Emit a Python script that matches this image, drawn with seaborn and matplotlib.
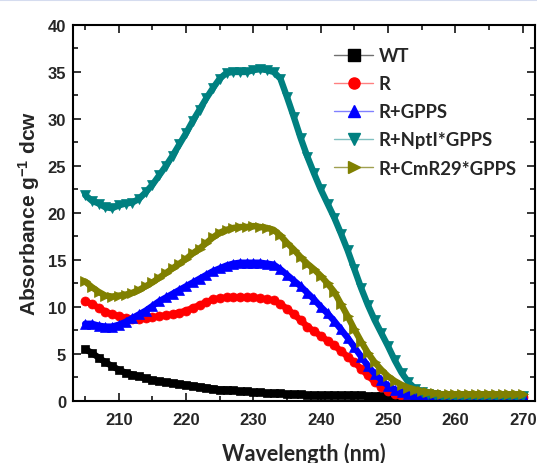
import matplotlib
matplotlib.use("Agg")
import matplotlib.pyplot as plt
from matplotlib.lines import Line2D
from matplotlib.ticker import MultipleLocator
import numpy as np
import pandas as pd
import seaborn as sns

# Absorbance spectra (per g dry cell weight), sampled every 1 nm from 205 to 270 nm
wavelength = list(range(205, 271))

wt = [5.5, 5.1, 4.6, 4.1, 3.7, 3.3, 3.0, 2.8, 2.6, 2.4,
      2.2, 2.1, 2.0, 1.9, 1.8, 1.7, 1.6, 1.5, 1.4, 1.3,
      1.2, 1.2, 1.1, 1.0, 1.0, 0.9, 0.9, 0.8, 0.8, 0.8,
      0.7, 0.7, 0.7, 0.6, 0.6, 0.6, 0.6, 0.6, 0.6, 0.6,
      0.6, 0.6, 0.5, 0.5, 0.5, 0.5, 0.4, 0.4, 0.4, 0.4,
      0.4, 0.4, 0.4, 0.4, 0.4, 0.4, 0.4, 0.4, 0.4, 0.4,
      0.4, 0.4, 0.4, 0.4, 0.4, 0.4]

r = [10.6, 10.3, 9.9, 9.5, 9.2, 9.0, 8.8, 8.7, 8.7, 8.8,
     8.9, 9.0, 9.1, 9.2, 9.4, 9.6, 9.9, 10.2, 10.5, 10.8,
     10.9, 11.0, 11.0, 11.0, 11.0, 11.0, 10.9, 10.8, 10.7, 10.3,
     9.8, 9.2, 8.6, 7.9, 7.4, 6.9, 6.4, 5.9, 5.3, 4.7,
     4.1, 3.4, 2.7, 2.0, 1.5, 1.0, 0.7, 0.5, 0.4, 0.4,
     0.4, 0.4, 0.4, 0.4, 0.4, 0.4, 0.4, 0.4, 0.4, 0.4,
     0.4, 0.4, 0.4, 0.4, 0.4, 0.4]

r_gpps = [8.2, 8.2, 8.0, 7.9, 7.9, 8.1, 8.4, 8.8, 9.2, 9.6,
          10.1, 10.6, 11.0, 11.4, 11.8, 12.2, 12.6, 13.0, 13.4, 13.8,
          14.1, 14.4, 14.6, 14.7, 14.7, 14.7, 14.7, 14.6, 14.5, 14.0,
          13.4, 12.8, 12.2, 11.5, 10.8, 10.0, 9.3, 8.5, 7.6, 6.7,
          5.7, 4.7, 3.7, 2.9, 2.2, 1.6, 1.2, 0.9, 0.7, 0.6,
          0.5, 0.5, 0.5, 0.5, 0.5, 0.5, 0.5, 0.5, 0.5, 0.5,
          0.5, 0.5, 0.5, 0.5, 0.5, 0.5]

r_nptl_gpps = [21.9, 21.3, 21.0, 20.6, 20.5, 20.8, 21.0, 21.1, 21.5, 22.2,
               23.0, 24.0, 25.0, 26.1, 27.3, 28.5, 29.8, 31.0, 32.2, 33.3,
               34.3, 34.9, 35.0, 35.0, 35.0, 35.2, 35.3, 35.2, 35.0, 34.3,
               32.3, 30.2, 28.0, 26.0, 24.2, 22.5, 21.0, 19.5, 17.8, 16.0,
               14.0, 12.0, 10.2, 8.6, 7.2, 5.8, 4.3, 3.0, 2.0, 1.3,
               0.9, 0.7, 0.6, 0.5, 0.5, 0.5, 0.5, 0.5, 0.5, 0.5,
               0.5, 0.5, 0.5, 0.5, 0.5, 0.5]

r_cmr29_gpps = [12.7, 12.1, 11.6, 11.2, 11.1, 11.2, 11.3, 11.5, 11.8, 12.2,
                12.6, 13.1, 13.6, 14.1, 14.6, 15.1, 15.7, 16.2, 16.8, 17.4,
                17.9, 18.2, 18.4, 18.5, 18.5, 18.6, 18.5, 18.4, 18.2, 17.6,
                16.8, 16.1, 15.3, 14.6, 14.0, 13.3, 12.5, 11.6, 10.3, 9.0,
                7.6, 6.3, 5.1, 4.1, 3.3, 2.6, 2.1, 1.7, 1.4, 1.2,
                1.0, 0.9, 0.8, 0.7, 0.7, 0.7, 0.7, 0.7, 0.7, 0.7,
                0.7, 0.7, 0.7, 0.7, 0.7, 0.7]

series_names = ["WT", "R", "R+GPPS", "R+NptI*GPPS", "R+CmR29*GPPS"]
series_values = [wt, r, r_gpps, r_nptl_gpps, r_cmr29_gpps]
colors = ["#000000", "#ff0000", "#0000ff", "#008080", "#808000"]
legend_line_colors = ["#707070", "#ff8080", "#8080ff", "#80c0c0", "#a0a050"]
markers = ["s", "o", "^", "v", ">"]
marker_sizes = [6.2, 6.5, 6.8, 7.6, 7.0]

df = pd.DataFrame({
    "Wavelength": np.tile(wavelength, len(series_names)),
    "Absorbance": np.concatenate(series_values),
    "Strain": np.repeat(series_names, len(wavelength)),
})

sns.set_style("ticks")
plt.rcParams["font.family"] = ["Liberation Sans", "DejaVu Sans"]
plt.rcParams["font.weight"] = "bold"
plt.rcParams["mathtext.fontset"] = "custom"
plt.rcParams["mathtext.rm"] = "Liberation Sans:bold"
plt.rcParams["mathtext.it"] = "Liberation Sans:bold"
plt.rcParams["mathtext.bf"] = "Liberation Sans:bold"

fig = plt.figure(figsize=(5.37, 4.64), dpi=100)
ax = fig.add_axes([0.136, 0.134, 0.860, 0.810])

# thin pale rule along the top edge of the figure
fig.add_artist(Line2D([0, 1], [0.997, 0.997], transform=fig.transFigure,
                      color="#d5dcef", linewidth=1.5))

# dense symbols joined by a thick trace of the same colour give a solid band
for name, col, mk, ms in zip(series_names, colors, markers, marker_sizes):
    sub = df[df["Strain"] == name]
    sns.lineplot(data=sub, x="Wavelength", y="Absorbance", ax=ax,
                 color=col, linewidth=4.6, marker=mk, markersize=ms,
                 markerfacecolor=col, markeredgecolor=col, markeredgewidth=0.5,
                 legend=False, errorbar=None)

ax.set_xlim(203.2, 271.8)
ax.set_ylim(0, 40)
ax.xaxis.set_major_locator(MultipleLocator(10))
ax.xaxis.set_minor_locator(MultipleLocator(5))
ax.yaxis.set_major_locator(MultipleLocator(5))
ax.yaxis.set_minor_locator(MultipleLocator(2.5))
ax.tick_params(which="both", direction="in", top=True, right=True, width=1.3,
               labelsize=12)
ax.tick_params(axis="x", pad=8)
ax.tick_params(axis="y", pad=5)
ax.tick_params(which="major", length=6)
ax.tick_params(which="minor", length=3.5)
for lab in ax.get_xticklabels() + ax.get_yticklabels():
    lab.set_fontweight("bold")
for sp in ax.spines.values():
    sp.set_linewidth(1.5)
    sp.set_color("black")

ax.set_xlabel("Wavelength (nm)", family=["Lato", "DejaVu Sans"], fontweight="bold",
              fontsize=15.5, labelpad=11)
ax.set_ylabel(r"Absorbance g$^{-1}$ dcw", fontweight="bold", fontsize=15, labelpad=4)

handles = [Line2D([0], [0], color=lc, lw=1.0, marker=mk, markersize=8,
                  markerfacecolor=c, markeredgecolor=c)
           for c, lc, mk in zip(colors, legend_line_colors, markers)]
ax.legend(handles, series_names, loc="upper left", bbox_to_anchor=(0.53, 0.985),
          frameon=False, handlelength=2.1, handletextpad=0.3, labelspacing=0.6,
          prop={"family": ["Lato", "DejaVu Sans"], "weight": "bold", "size": 13.3})

fig.savefig("out.png", dpi=100)
